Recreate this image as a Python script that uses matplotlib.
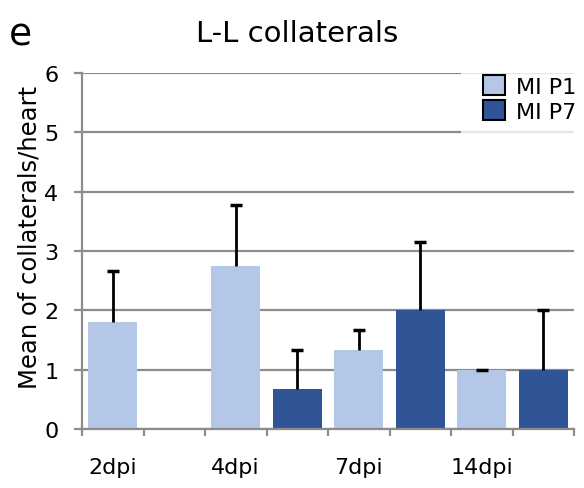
import numpy as np
import matplotlib
matplotlib.use('Agg')
import matplotlib.pyplot as plt

plt.rcParams['font.family'] = ['DejaVu Sans']

# Daten
timepoints = ['2dpi', '4dpi', '7dpi', '14dpi']
p1_mean = [1.8, 2.75, 1.33, 1.0]
p1_err = [0.86, 1.03, 0.34, 0.0]
p7_mean = [np.nan, 0.67, 2.0, 1.0]
p7_err = [np.nan, 0.66, 1.15, 1.0]
series_names = ['MI P1', 'MI P7']

c_p1 = '#B4C7E7'
c_p7 = '#2F5597'
grey = '#8c8c8c'

fig = plt.figure(figsize=(5.84, 4.89), dpi=100)
ax = fig.add_axes([82 / 584, 1 - 430 / 489, 492 / 584, 356 / 489])

x_p1 = np.arange(len(timepoints)) * 2
x_p7 = x_p1 + 1

ax.bar(x_p1, p1_mean, width=0.8, color=c_p1, zorder=2, label=series_names[0])
ax.bar(x_p7, np.nan_to_num(p7_mean), width=0.8, color=c_p7, zorder=2, label=series_names[1])

# nur obere Fehlerbalken
for xs, m, e in [(x_p1, p1_mean, p1_err), (x_p7, p7_mean, p7_err)]:
    m = np.array(m)
    top = m + np.array(e)
    ok = ~np.isnan(m)
    ax.vlines(xs[ok], m[ok], top[ok], color='black', lw=2, zorder=3)
    ax.plot(xs[ok], top[ok], ls='none', marker='_', ms=9, mew=2.5, color='black', zorder=3)

ax.set_ylim(0, 6)
ax.set_xlim(-0.5, 7.5)
ax.set_yticks(range(7))
ax.yaxis.grid(True, color=grey, lw=1.6, zorder=0)
ax.set_axisbelow(True)

ax.set_xticks(x_p1)
ax.set_xticklabels(timepoints)
ax.set_xticks(np.arange(-0.5, 8, 1), minor=True)
ax.tick_params(axis='x', which='major', length=0, pad=20, labelsize=16)
ax.tick_params(axis='x', which='minor', length=5, width=1.6, color=grey)
ax.tick_params(axis='y', length=6, width=1.6, color=grey, pad=11, labelsize=16)

for s in ['top', 'right']:
    ax.spines[s].set_visible(False)
for s in ['left', 'bottom']:
    ax.spines[s].set_color(grey)
    ax.spines[s].set_linewidth(1.6)

fig.text(29.5 / 584, 1 - 237 / 489, 'Mean of collaterals/heart', rotation=90,
         ha='center', va='center', fontsize=17.5)
fig.text(297 / 584, 1 - 42 / 489, 'L-L collaterals', ha='center', va='baseline', fontsize=21)
fig.text(9 / 584, 1 - 46 / 489, 'e', ha='left', va='baseline', fontsize=27)

leg = ax.legend(loc='upper left', bbox_to_anchor=(461 / 584, 1 - 53.5 / 489),
                bbox_transform=fig.transFigure, borderaxespad=0, borderpad=1.0,
                frameon=True, fancybox=False, fontsize=16, handlelength=1.0,
                handleheight=1.04, handletextpad=0.47, labelspacing=0.15)
leg.get_frame().set_facecolor('white')
leg.get_frame().set_edgecolor('none')
for h in leg.legend_handles:
    h.set_edgecolor('black')
    h.set_linewidth(1.5)

fig.savefig('out.png', dpi=100)
